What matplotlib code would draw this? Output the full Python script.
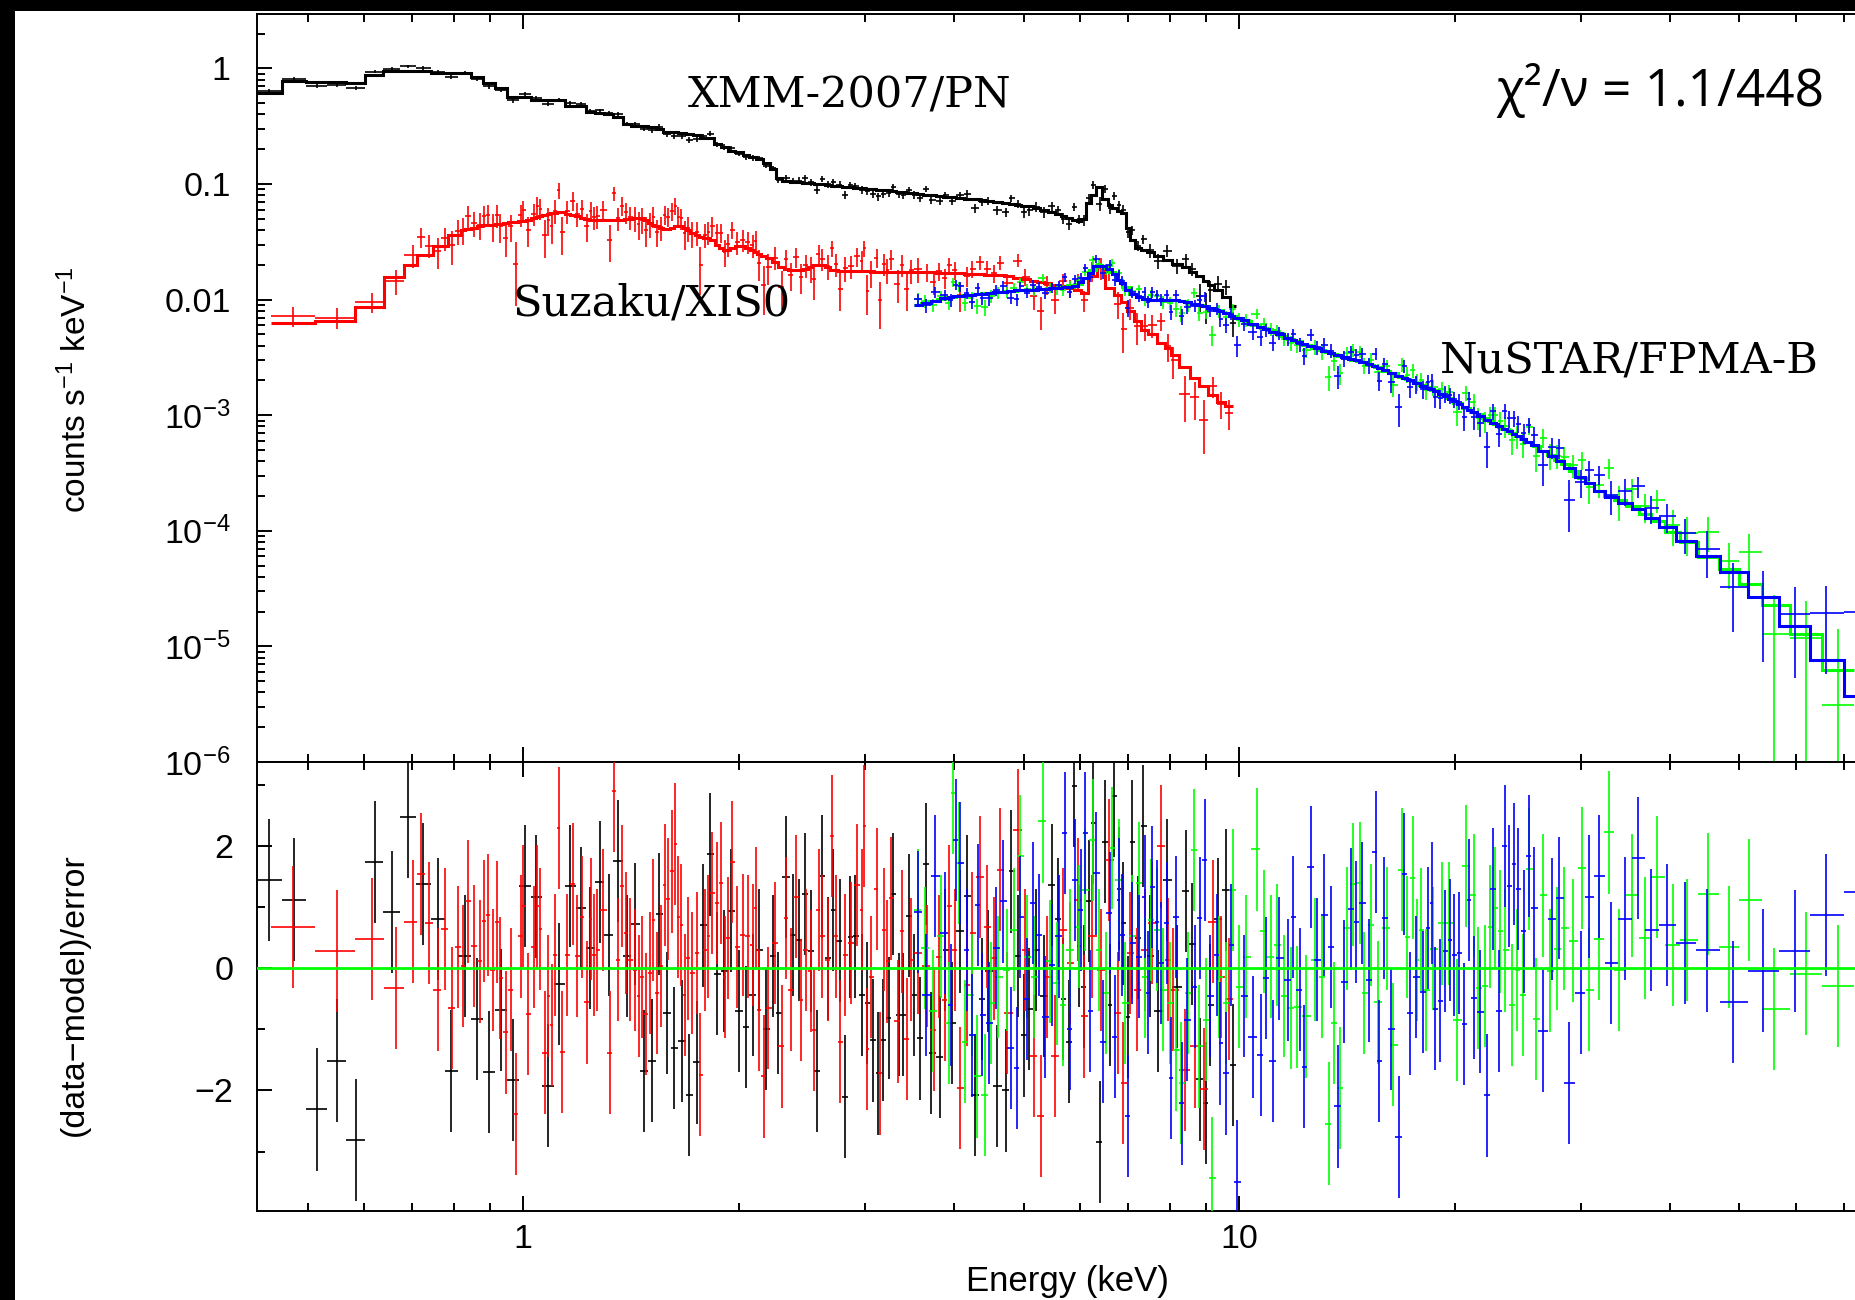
import numpy as np
import matplotlib
matplotlib.use("Agg")
import matplotlib.pyplot as plt
from matplotlib.patches import Rectangle
from matplotlib.ticker import FixedLocator, NullFormatter

# ======================= DATA =======================
# XMM-2007/PN (black)
xmm_energy = [0.442, 0.479, 0.516, 0.550, 0.584, 0.621, 0.656, 0.691, 0.725, 0.761,
              0.793, 0.830, 0.863, 0.896, 0.932, 0.968, 1.006, 1.043, 1.084, 1.123,
              1.163, 1.205, 1.241, 1.281, 1.318, 1.357, 1.397, 1.434, 1.476, 1.514,
              1.549, 1.589, 1.625, 1.668, 1.705, 1.750, 1.784, 1.825, 1.866, 1.909,
              1.952, 2.003, 2.048, 2.092, 2.136, 2.185, 2.235, 2.271, 2.330, 2.383,
              2.426, 2.477, 2.521, 2.574, 2.616, 2.667, 2.710, 2.768, 2.817, 2.862,
              2.909, 2.975, 3.023, 3.082, 3.132, 3.183, 3.245, 3.287, 3.351, 3.395,
              3.460, 3.517, 3.585, 3.655, 3.714, 3.823,
              3.886, 3.975, 4.077, 4.171, 4.279, 4.376, 4.461, 4.592, 4.727, 4.804,
              4.913, 5.009, 5.090, 5.206, 5.342, 5.483, 5.590, 5.681, 5.792, 5.886,
              5.976, 6.074, 6.172, 6.254, 6.386, 6.500, 6.605, 6.690, 6.799, 6.887,
              6.998, 7.089, 7.228, 7.346, 7.514, 7.709, 7.937, 8.196, 8.433, 8.597,
              8.821, 8.993, 9.110, 9.348, 9.590, 9.808]
xmm_model = [0.61, 0.78, 0.77, 0.76, 0.75, 0.88, 0.95, 0.95, 0.95, 0.91,
             0.91, 0.91, 0.84, 0.75, 0.675, 0.572, 0.572, 0.535, 0.535, 0.535,
             0.475, 0.475, 0.42, 0.41, 0.40, 0.38, 0.33, 0.32, 0.32, 0.31,
             0.30, 0.28, 0.28, 0.275, 0.27, 0.265, 0.25, 0.25, 0.22, 0.21,
             0.195, 0.19, 0.18, 0.172, 0.165, 0.152, 0.135, 0.112, 0.106, 0.104,
             0.104, 0.103, 0.102, 0.101, 0.100, 0.099, 0.097, 0.096, 0.095, 0.094,
             0.093, 0.092, 0.091, 0.090, 0.089, 0.089, 0.088, 0.087, 0.086, 0.085,
             0.084, 0.083, 0.082, 0.081, 0.080, 0.079,
             0.078, 0.077, 0.076, 0.075, 0.074, 0.073, 0.072, 0.070, 0.068, 0.067,
             0.066, 0.065, 0.064, 0.062, 0.060, 0.057, 0.055, 0.053, 0.051, 0.049,
             0.048, 0.050, 0.068, 0.080, 0.094, 0.075, 0.066, 0.062, 0.058, 0.056,
             0.042, 0.033, 0.028, 0.027, 0.026, 0.024, 0.022, 0.0205, 0.019, 0.0175,
             0.016, 0.0145, 0.0135, 0.012, 0.0105, 0.0088]
xmm_resid = [1.44, 1.12, -2.31, -1.51, -2.81, 1.73, 0.92, 2.47, 1.38, 0.80,
             -1.68, 0.20, -0.83, -1.70, -0.68, -1.83, 1.34, 1.17, -1.92, -0.26,
             1.34, 0.98, 0.33, 1.41, 0.54, 1.75, 0.20, 0.72, -1.68, -1.51,
             0.89, -0.73, -1.31, -1.19, -2.07, -1.54, 0.70, 1.86, -0.09, -0.05,
             0.94, -0.70, -0.96, -0.44, 0.30, -1.00, 0.20, -0.73, 1.49, 0.54,
             0.46, 1.21, 0.28, -1.68, 1.50, 0.16, 0.95, 0.45, -2.10, 0.51,
             0.52, -0.44, -0.57, -1.18, -1.72, -1.17, -0.82, 1.21, -0.76, -0.76,
             0.86, -0.44, -1.15, 1.70, -1.39, -1.45,
             0.30, -0.90, 0.60, 1.18, -2.07, -0.50, -0.05, -1.93, -2.00, 1.58,
             0.20, -1.10, -0.67, 0.30, -0.46, 1.36, 0.80, -0.50, -1.20, 2.98,
             0.36, -0.30, 1.10, 2.37, -2.84, 2.07, -0.60, 2.81, 1.30, 0.73,
             -0.80, 2.07, 0.50, 2.32, 0.20, -0.70, 1.44, -0.30, 1.26, 0.40,
             -1.82, -2.20, -0.60, 0.80, 1.28, -1.58]
xmm_relerr = [0.035, 0.035, 0.035, 0.035, 0.035, 0.04, 0.04, 0.04, 0.04, 0.04,
              0.04, 0.04, 0.04, 0.04, 0.04, 0.04, 0.04, 0.04, 0.04, 0.04,
              0.04, 0.04, 0.04, 0.04, 0.04, 0.04, 0.04, 0.04, 0.04, 0.04,
              0.05, 0.05, 0.05, 0.05, 0.05, 0.05, 0.05, 0.05, 0.05, 0.05,
              0.05, 0.05, 0.05, 0.05, 0.05, 0.05, 0.05, 0.05, 0.05, 0.05,
              0.07, 0.07, 0.07, 0.07, 0.07, 0.07, 0.07, 0.07, 0.07, 0.07,
              0.07, 0.07, 0.07, 0.07, 0.07, 0.07, 0.07, 0.07, 0.07, 0.07,
              0.07, 0.07, 0.07, 0.07, 0.07, 0.07,
              0.08, 0.08, 0.08, 0.08, 0.08, 0.08, 0.08, 0.08, 0.08, 0.08,
              0.08, 0.10, 0.10, 0.10, 0.10, 0.10, 0.10, 0.10, 0.10, 0.10,
              0.10, 0.10, 0.10, 0.10, 0.10, 0.10, 0.10, 0.10, 0.10, 0.10,
              0.10, 0.10, 0.10, 0.10, 0.14, 0.14, 0.14, 0.14, 0.14, 0.14,
              0.18, 0.18, 0.18, 0.18, 0.18, 0.18]

# Suzaku/XIS0 (red)
xis_energy = [0.477, 0.549, 0.616, 0.665, 0.701, 0.721, 0.739, 0.760, 0.777, 0.796,
              0.811, 0.825, 0.837, 0.853, 0.871, 0.882, 0.894, 0.907, 0.919, 0.930,
              0.946, 0.961, 0.977, 0.992, 1.000, 1.016, 1.035, 1.047, 1.056, 1.073,
              1.085, 1.096, 1.109, 1.122, 1.133, 1.153, 1.175, 1.191, 1.209, 1.227,
              1.244, 1.256, 1.269, 1.295, 1.322, 1.340, 1.356, 1.375, 1.392, 1.410,
              1.434, 1.451, 1.465, 1.487, 1.504, 1.521, 1.537, 1.558, 1.577, 1.593,
              1.616, 1.632, 1.646, 1.663, 1.682, 1.699, 1.724, 1.748, 1.769, 1.795,
              1.813, 1.839, 1.865, 1.892, 1.914, 1.933, 1.961, 1.989, 2.027, 2.063,
              2.092, 2.113, 2.137, 2.168, 2.200, 2.248, 2.297, 2.330, 2.364, 2.408,
              2.443, 2.485, 2.521, 2.550, 2.587, 2.613, 2.670, 2.698, 2.736, 2.768,
              2.820, 2.870, 2.931, 2.974, 2.995, 3.026, 3.060, 3.118, 3.150, 3.195,
              3.228, 3.265, 3.336, 3.385, 3.433, 3.483, 3.559,
              3.667, 3.744, 3.811, 3.880, 3.936, 4.006, 4.077, 4.171, 4.239, 4.349,
              4.446, 4.548, 4.636, 4.742, 4.913, 5.025, 5.173, 5.284, 5.394, 5.534,
              5.681, 5.808, 5.954, 6.074, 6.232, 6.418, 6.584, 6.776, 6.887, 7.044,
              7.204, 7.384, 7.561, 7.783, 7.960, 8.089, 8.407, 8.670, 8.938, 9.184,
              9.438, 9.683]
xis_model = [0.0063, 0.0066, 0.0086, 0.0156, 0.020, 0.0245, 0.0245, 0.029, 0.029, 0.036,
             0.036, 0.040, 0.041, 0.042, 0.043, 0.044, 0.044, 0.044, 0.045, 0.045,
             0.046, 0.047, 0.047, 0.048, 0.048, 0.049, 0.051, 0.052, 0.053, 0.054,
             0.055, 0.056, 0.056, 0.057, 0.057, 0.055, 0.054, 0.053, 0.051, 0.050,
             0.049, 0.049, 0.049, 0.049, 0.049, 0.049, 0.049, 0.049, 0.050, 0.050,
             0.051, 0.051, 0.051, 0.049, 0.046, 0.044, 0.043, 0.042, 0.041, 0.041,
             0.042, 0.043, 0.043, 0.043, 0.042, 0.040, 0.038, 0.036, 0.035, 0.034,
             0.034, 0.033, 0.030, 0.028, 0.027, 0.027, 0.028, 0.029, 0.029, 0.028,
             0.027, 0.026, 0.025, 0.024, 0.023, 0.021, 0.019, 0.0185, 0.018, 0.018,
             0.018, 0.0185, 0.019, 0.020, 0.020, 0.020, 0.019, 0.018, 0.018, 0.0178,
             0.0178, 0.0177, 0.0177, 0.0176, 0.0176, 0.0176, 0.0176, 0.0175, 0.0175, 0.0175,
             0.0175, 0.0175, 0.0174, 0.0174, 0.0174, 0.0173, 0.0173,
             0.0172, 0.0172, 0.0171, 0.0171, 0.0170, 0.0170, 0.0169, 0.0168, 0.0167, 0.0166,
             0.0165, 0.0164, 0.0162, 0.0160, 0.0155, 0.0150, 0.0145, 0.0142, 0.0138, 0.0135,
             0.0130, 0.0125, 0.0120, 0.0115, 0.0160, 0.0190, 0.0125, 0.0110, 0.0095, 0.0080,
             0.0065, 0.0055, 0.0050, 0.0042, 0.0038, 0.0033, 0.0026, 0.0021, 0.0018, 0.0015,
             0.0013, 0.0012]
xis_resid = [0.67, 0.28, 0.48, -0.32, 0.76, 1.54, 0.74, -0.35, 0.64, -0.65,
             0.35, 0.03, 1.09, 0.36, 0.11, 0.77, 0.87, -0.03, 0.75, -0.16,
             -1.05, -0.35, -2.38, 0.52, 1.02, -0.75, 0.35, 1.01, 0.64, -1.38,
             -0.46, -0.93, 0.22, 2.29, -1.37, 0.22, 1.38, 0.20, 0.84, -0.56,
             0.80, 0.22, 0.30, 0.95, -1.38, 2.90, 0.14, 1.34, 0.57, 0.14,
             -0.03, -0.46, -0.14, -0.75, -0.08, 0.79, -0.41, 0.03, 1.36, 1.13,
             1.58, 2.03, 0.84, 0.71, -0.44, 0.16, -0.08, 0.25, -1.74, 0.30,
             0.52, 1.23, 1.06, 1.39, -0.14, 0.49, 1.74, 0.35, 0.54, 0.52,
             0.38, 0.98, -0.68, -1.77, -0.65, 0.41, -1.28, 0.82, -0.35, 1.17,
             -0.52, 0.30, -0.05, -1.01, 0.95, 0.52, 0.14, 2.16, 0.52, -1.20,
             0.22, 0.41, 1.36, 0.95, 2.32, -1.32, -0.14, 1.29, -1.72, 0.63,
             0.11, 1.14, -0.87, 0.60, -1.16, 0.14, 0.25,
             0.03, -1.01, 0.19, -0.52, 1.01, 0.30, -1.96, -0.27, 0.57, 1.49,
             0.68, 0.16, 1.61, -0.73, 2.26, 0.30, -1.44, -2.42, -0.14, -1.44,
             0.63, 0.08, 1.12, -0.79, 0.52, -0.03, 1.77, -0.73, -1.88, 0.25,
             -0.35, 0.30, 0.74, 1.99, 0.14, -0.35, -1.66, -1.28, -1.98, 0.76,
             -0.14, -0.50]
xis_relerr = [0.22, 0.22, 0.22, 0.22, 0.27, 0.27, 0.27, 0.27, 0.27, 0.27,
              0.27, 0.27, 0.27, 0.27, 0.27, 0.27, 0.27, 0.27, 0.27, 0.27,
              0.24, 0.24, 0.24, 0.24, 0.24, 0.24, 0.24, 0.24, 0.24, 0.24,
              0.24, 0.24, 0.24, 0.24, 0.24, 0.24, 0.24, 0.24, 0.24, 0.24,
              0.24, 0.24, 0.24, 0.24, 0.24, 0.24, 0.24, 0.24, 0.24, 0.24,
              0.24, 0.24, 0.24, 0.24, 0.24, 0.24, 0.24, 0.24, 0.24, 0.24,
              0.25, 0.25, 0.25, 0.25, 0.25, 0.25, 0.25, 0.25, 0.25, 0.25,
              0.25, 0.25, 0.25, 0.25, 0.25, 0.25, 0.25, 0.25, 0.25, 0.25,
              0.25, 0.25, 0.25, 0.25, 0.25, 0.25, 0.25, 0.25, 0.25, 0.25,
              0.25, 0.25, 0.25, 0.25, 0.25, 0.25, 0.25, 0.25, 0.25, 0.25,
              0.25, 0.25, 0.25, 0.25, 0.25, 0.25, 0.25, 0.25, 0.25, 0.25,
              0.25, 0.25, 0.25, 0.25, 0.25, 0.25, 0.25,
              0.18, 0.18, 0.18, 0.18, 0.18, 0.18, 0.18, 0.18, 0.18, 0.18,
              0.18, 0.18, 0.18, 0.18, 0.18, 0.18, 0.18, 0.18, 0.18, 0.18,
              0.18, 0.18, 0.18, 0.18, 0.22, 0.22, 0.22, 0.22, 0.22, 0.22,
              0.28, 0.28, 0.28, 0.28, 0.28, 0.28, 0.25, 0.25, 0.25, 0.25,
              0.25, 0.25]

# NuSTAR FPMA (green)
fpma_energy = [3.56, 3.64, 3.74, 3.84, 3.94, 3.98, 4.06, 4.14, 4.23, 4.30,
               4.42, 4.51, 4.61, 4.74, 4.85, 4.95, 5.06, 5.17, 5.32, 5.44,
               5.56, 5.68, 5.80, 5.97, 6.10, 6.25, 6.37, 6.51, 6.65, 6.79,
               6.94, 7.09, 7.25, 7.40, 7.53, 7.68, 7.84, 8.01, 8.16, 8.31,
               8.49, 8.65, 8.80, 8.99, 9.18, 9.38, 9.59, 9.80, 10.01, 10.22,
               10.60, 10.83, 11.07, 11.31, 11.55, 11.81, 12.06, 12.42, 12.78, 13.06,
               13.34, 13.57, 13.83, 14.13, 14.43, 14.75, 14.96, 15.29, 15.62, 16.07,
               16.43, 16.89, 17.17, 17.50, 17.73, 17.96, 18.25, 18.66, 19.21, 19.65,
               20.16, 20.75, 21.29, 21.57, 22.06, 22.42, 22.78, 23.15, 23.53, 24.06,
               24.45, 24.93, 25.41, 25.99, 26.58, 27.19, 27.81, 28.44, 29.28, 30.14,
               30.82, 31.83, 32.87, 33.94, 35.40, 36.90, 38.36, 40.38, 42.25, 45.19,
               48.35, 51.58, 55.88, 61.94, 68.64]
fpma_model = [0.00904, 0.00933, 0.00975, 0.0101, 0.0105, 0.0106, 0.0108, 0.0109, 0.0110, 0.0112,
              0.0114, 0.0115, 0.0117, 0.0118, 0.0119, 0.0120, 0.0121, 0.0122, 0.0124, 0.0125,
              0.0126, 0.0128, 0.0129, 0.0137, 0.0155, 0.0181, 0.0198, 0.0192, 0.0175, 0.0148,
              0.0128, 0.0111, 0.0105, 0.0102, 0.0100, 0.0100, 0.0100, 0.00995, 0.00991, 0.00980,
              0.00950, 0.00926, 0.00902, 0.00874, 0.00842, 0.00808, 0.00759, 0.00718, 0.00700, 0.00652,
              0.00603, 0.00570, 0.00541, 0.00513, 0.00486, 0.00461, 0.00439, 0.00407, 0.00384, 0.00366,
              0.00349, 0.00339, 0.00327, 0.00315, 0.00303, 0.00293, 0.00286, 0.00274, 0.00260, 0.00243,
              0.00231, 0.00215, 0.00206, 0.00196, 0.00189, 0.00183, 0.00176, 0.00166, 0.00151, 0.00140,
              0.00128, 0.00116, 0.00106, 0.00102, 0.000940, 0.000887, 0.000839, 0.000794, 0.000753, 0.000701,
              0.000665, 0.000625, 0.000589, 0.000541, 0.000494, 0.000451, 0.000413, 0.000378, 0.000331, 0.000288,
              0.000260, 0.000223, 0.000202, 0.000185, 0.000164, 0.000141, 0.000121, 9.77e-5, 7.94e-5, 5.89e-5,
              4.68e-5, 3.47e-5, 2.29e-5, 1.29e-5, 6.31e-6]
fpma_resid = [0.95, 0.33, -0.70, 0.52, -0.90, 2.86, 1.72, -1.20, -0.44, -1.77,
              -2.07, -0.57, -0.14, -0.03, 0.63, 1.83, 0.19, -0.14, 2.40, 0.11,
              -0.25, -0.60, 0.30, 0.68, 1.28, 2.10, 0.30, -0.41, 1.96, 1.44,
              -0.57, 0.52, 1.39, -0.14, 0.79, 0.63, -0.35, -0.57, -1.33, -1.88,
              -0.41, 1.93, -1.28, -0.84, -3.43, -0.14, -0.57, 1.28, -0.30, 0.19,
              1.94, 0.60, 0.19, 0.38, -0.46, -0.65, -0.63, -0.79, 0.14, -0.14,
              -2.54, -0.90, -1.96, 0.65, 1.37, 1.39, -0.41, 0.71, -0.56, 0.65,
              -1.25, 1.61, 0.51, 1.48, 0.13, 0.63, -0.36, 0.32, 0.73, 0.73,
              -0.85, 1.67, 1.19, -0.32, -0.29, 0.68, 0.98, 0.60, 0.29, -0.60,
              -0.03, -0.44, 1.62, -0.83, 1.19, -0.04, 0.32, 0.65, 0.45, 1.64,
              -0.35, 0.48, 2.22, -0.03, 1.19, 0.49, 1.49, 0.38, 0.46, 1.21,
              0.35, 1.11, -0.67, -0.09, -0.29]
fpma_relerr = [0.13, 0.13, 0.12, 0.12, 0.12, 0.12, 0.12, 0.12, 0.12, 0.12,
               0.12, 0.12, 0.12, 0.12, 0.10, 0.10, 0.10, 0.10, 0.10, 0.10,
               0.10, 0.10, 0.10, 0.10, 0.10, 0.10, 0.10, 0.10, 0.10, 0.10,
               0.10, 0.12, 0.12, 0.12, 0.12, 0.12, 0.12, 0.12, 0.12, 0.12,
               0.12, 0.12, 0.12, 0.12, 0.12, 0.12, 0.12, 0.12, 0.13, 0.13,
               0.13, 0.13, 0.13, 0.13, 0.13, 0.13, 0.13, 0.13, 0.15, 0.15,
               0.15, 0.15, 0.15, 0.15, 0.15, 0.15, 0.15, 0.15, 0.15, 0.15,
               0.17, 0.17, 0.17, 0.17, 0.17, 0.17, 0.17, 0.17, 0.17, 0.17,
               0.20, 0.20, 0.20, 0.20, 0.20, 0.20, 0.20, 0.22, 0.22, 0.22,
               0.22, 0.22, 0.22, 0.22, 0.25, 0.25, 0.25, 0.25, 0.25, 0.25,
               0.25, 0.25, 0.33, 0.33, 0.33, 0.33, 0.35, 0.40, 0.45, 0.55,
               0.50, 0.80, 0.65, 1.00, 1.75]

# NuSTAR FPMB (blue)
fpmb_energy = [3.56, 3.66, 3.76, 3.88, 3.96, 4.02, 4.08, 4.17, 4.23, 4.32,
               4.38, 4.48, 4.58, 4.68, 4.81, 4.90, 4.95, 5.06, 5.16, 5.25,
               5.36, 5.48, 5.60, 5.72, 5.80, 5.90, 6.01, 6.10, 6.19, 6.32,
               6.46, 6.60, 6.70, 6.79, 6.86, 6.99, 7.09, 7.25, 7.38, 7.46,
               7.57, 7.68, 7.79, 7.92, 8.04, 8.16, 8.33, 8.45, 8.67, 8.82,
               8.95, 9.12, 9.32, 9.42, 9.59, 9.76, 9.94, 10.16, 10.45, 10.72,
               10.91, 11.15, 11.36, 11.72, 11.89, 12.15, 12.33, 12.59, 12.87, 13.15,
               13.44, 13.73, 14.03, 14.33, 14.58, 14.86, 15.18, 15.51, 15.67, 15.96,
               16.31, 16.74, 17.00, 17.33, 17.67, 18.07, 18.37, 18.60, 18.78, 19.09,
               19.40, 19.71, 19.97, 20.29, 20.62, 20.95, 21.29, 21.71, 22.20, 22.63,
               23.08, 23.53, 23.83, 24.22, 24.53, 25.00, 25.41, 25.82, 26.58, 27.37,
               27.99, 28.90, 30.04, 30.82, 31.83, 33.08, 34.60, 36.08, 37.62, 39.62,
               41.98, 45.05, 48.97, 53.94, 59.77, 66.04, 74.0]
fpmb_model = [0.00904, 0.00944, 0.00982, 0.0103, 0.0106, 0.0107, 0.0108, 0.0110, 0.0110, 0.0112,
              0.0113, 0.0115, 0.0116, 0.0117, 0.0119, 0.0120, 0.0120, 0.0121, 0.0122, 0.0123,
              0.0124, 0.0126, 0.0127, 0.0128, 0.0129, 0.0132, 0.0141, 0.0155, 0.0170, 0.0195,
              0.0195, 0.0184, 0.0166, 0.0148, 0.0138, 0.0120, 0.0111, 0.0105, 0.0102, 0.0101,
              0.0100, 0.0100, 0.0100, 0.00998, 0.00995, 0.00991, 0.00977, 0.00955, 0.00923, 0.00900,
              0.00879, 0.00851, 0.00813, 0.00794, 0.00759, 0.00724, 0.00692, 0.00661, 0.00617, 0.00581,
              0.00557, 0.00530, 0.00506, 0.00468, 0.00452, 0.00429, 0.00415, 0.00396, 0.00378, 0.00361,
              0.00344, 0.00331, 0.00319, 0.00308, 0.00299, 0.00290, 0.00279, 0.00265, 0.00258, 0.00247,
              0.00234, 0.00220, 0.00211, 0.00201, 0.00191, 0.00180, 0.00173, 0.00167, 0.00162, 0.00154,
              0.00146, 0.00138, 0.00132, 0.00126, 0.00119, 0.00112, 0.00106, 0.000993, 0.000918, 0.000859,
              0.000804, 0.000753, 0.000724, 0.000687, 0.000659, 0.000619, 0.000589, 0.000556, 0.000494, 0.000440,
              0.000403, 0.000352, 0.000294, 0.000260, 0.000223, 0.000198, 0.000175, 0.000153, 0.000130, 0.000107,
              8.17e-5, 6.03e-5, 4.37e-5, 2.69e-5, 1.51e-5, 7.59e-6, 3.72e-6]
fpmb_resid = [0.92, -0.44, 1.51, 0.57, -0.60, 2.10, 1.72, 0.30, -1.10, 1.03,
              -0.76, -0.90, 0.33, 1.09, -1.30, -1.63, 0.84, -0.50, 1.06, 0.54,
              -0.80, 0.05, 0.52, 2.21, -1.00, 1.44, 0.95, 2.21, -0.70, 1.55,
              -1.20, 0.90, -1.12, 1.12, 0.54, -2.42, 0.41, 0.19, 1.17, -0.40,
              1.33, 0.76, 0.08, 0.74, -1.80, 0.84, -2.21, -0.84, -0.30, 0.82,
              1.77, -0.46, 0.22, -1.23, -1.72, 0.38, -3.49, -0.46, -1.13, -1.42,
              -0.16, -1.52, 0.16, -0.19, 0.84, -0.35, -1.61, 1.65, 0.14, 0.87,
              0.35, -2.26, -0.22, 0.97, 0.75, 1.06, -0.20, 1.90, -1.52, 0.82,
              -0.99, -2.76, 1.54, -0.74, -0.15, -0.39, 0.66, 1.06, -0.66, -0.53,
              0.28, 0.46, 0.22, 0.25, -0.91, 1.11, -0.48, -0.71, -2.08, 1.29,
              -0.70, 2.00, 1.34, 1.70, 1.29, 0.60, 1.83, 0.98, -1.02, 0.80,
              1.15, -1.88, -0.40, 1.17, 1.50, 0.08, 0.81, 1.80, 0.62, 0.71,
              0.41, 0.29, -0.55, -0.04, 0.28, 0.87, 1.25]
fpmb_relerr = [0.13, 0.13, 0.12, 0.12, 0.12, 0.12, 0.12, 0.12, 0.12, 0.12,
               0.12, 0.12, 0.12, 0.12, 0.10, 0.10, 0.10, 0.10, 0.10, 0.10,
               0.10, 0.10, 0.10, 0.10, 0.10, 0.10, 0.10, 0.10, 0.10, 0.10,
               0.10, 0.10, 0.10, 0.10, 0.10, 0.12, 0.12, 0.12, 0.12, 0.12,
               0.12, 0.12, 0.12, 0.12, 0.12, 0.12, 0.12, 0.12, 0.12, 0.12,
               0.12, 0.12, 0.12, 0.12, 0.12, 0.12, 0.12, 0.13, 0.13, 0.13,
               0.13, 0.13, 0.13, 0.13, 0.13, 0.13, 0.13, 0.15, 0.15, 0.15,
               0.15, 0.15, 0.15, 0.15, 0.15, 0.15, 0.15, 0.15, 0.15, 0.15,
               0.17, 0.17, 0.17, 0.17, 0.17, 0.17, 0.17, 0.17, 0.17, 0.17,
               0.17, 0.17, 0.17, 0.17, 0.20, 0.20, 0.20, 0.20, 0.20, 0.20,
               0.20, 0.22, 0.22, 0.22, 0.22, 0.22, 0.22, 0.22, 0.25, 0.25,
               0.25, 0.25, 0.25, 0.25, 0.25, 0.33, 0.33, 0.33, 0.33, 0.35,
               0.40, 0.50, 0.45, 0.70, 0.90, 1.80, 3.50]

# Axis / tick text
upper_ytick_values = [1e-6, 1e-5, 1e-4, 1e-3, 0.01, 0.1, 1]
upper_ytick_labels = ['$10^{-6}$', '$10^{-5}$', '$10^{-4}$', '$10^{-3}$', '0.01', '0.1', '1']
xtick_values = [1, 10]
xtick_labels = ['1', '10']
resid_ytick_values = [-2, 0, 2]
resid_ytick_labels = ['\u22122', '0', '2']

# ======================= FIGURE =======================
plt.rcParams['font.family'] = ['Liberation Sans', 'DejaVu Sans']
plt.rcParams['mathtext.fontset'] = 'custom'
plt.rcParams['mathtext.rm'] = 'Liberation Sans'
plt.rcParams['mathtext.it'] = 'Liberation Sans:italic'
plt.rcParams['mathtext.bf'] = 'Liberation Sans:bold'

W, H = 1855, 1300
fig = plt.figure(figsize=(W / 100, H / 100), dpi=100, facecolor='black')
fig.patches.append(Rectangle((15 / W, 0), 1.0, (H - 11) / H, transform=fig.transFigure,
                             facecolor='white', edgecolor='none', zorder=-10))

XMIN, XMAX = 0.425, 79.0
left_px, right_px = 257, 1881.7
top_px, mid_px, bot_px = 14, 762, 1211
ax1 = fig.add_axes([left_px / W, 1 - mid_px / H, (right_px - left_px) / W, (mid_px - top_px) / H])
ax2 = fig.add_axes([left_px / W, 1 - bot_px / H, (right_px - left_px) / W, (bot_px - mid_px) / H])

minor_x = [0.5, 0.6, 0.7, 0.8, 0.9, 2, 3, 4, 5, 6, 7, 8, 9, 20, 30, 40, 50, 60, 70]

for ax in (ax1, ax2):
    ax.set_xscale('log')
    ax.set_xlim(XMIN, XMAX)
    ax.xaxis.set_major_locator(FixedLocator(xtick_values))
    ax.xaxis.set_minor_locator(FixedLocator(minor_x))
    ax.xaxis.set_minor_formatter(NullFormatter())
    ax.tick_params(which='both', direction='in', top=True, right=True, width=1.4,
                   colors='black', labelsize=24.5)
    ax.tick_params(which='major', length=11)
    ax.tick_params(which='minor', length=6)
    for s in ax.spines.values():
        s.set_linewidth(1.4)

ax2.set_xticks(xtick_values)
ax2.set_xticklabels(xtick_labels)
ax1.tick_params(axis='x', labelbottom=False)
ax2.tick_params(axis='x', pad=9)

ax1.set_yscale('log')
ax1.set_ylim(1e-6, 2.96)
ax1.set_yticks(upper_ytick_values)
ax1.set_yticklabels(upper_ytick_labels)
ax1.yaxis.set_minor_locator(FixedLocator([m * 10.0 ** k for k in range(-6, 1) for m in range(2, 10)]))
ax1.yaxis.set_minor_formatter(NullFormatter())
ax1.tick_params(axis='y', pad=19)

ax2.set_ylim(-3.97, 3.37)
ax2.set_yticks(resid_ytick_values)
ax2.set_yticklabels(resid_ytick_labels)
ax2.yaxis.set_minor_locator(FixedLocator([-3, -1, 1, 3]))
ax2.tick_params(axis='y', pad=17)


def bin_edges(E):
    E = np.asarray(E, float)
    mid = np.sqrt(E[:-1] * E[1:])
    return np.concatenate([[E[0] ** 2 / mid[0]], mid, [E[-1] ** 2 / mid[-1]]])


def draw_set(E, model, resid, relerr, color, zbase):
    n = min(len(E), len(model), len(resid), len(relerr))
    E = np.asarray(E[:n], float)
    model = np.asarray(model[:n], float)
    resid = np.asarray(resid[:n], float)
    relerr = np.asarray(relerr[:n], float)
    edges = bin_edges(E)
    xl = E - edges[:-1]
    xr = edges[1:] - E
    err = model * relerr
    data = model + resid * err
    lo = np.where(data - err > 0, err, data * (1 - 1e-9))
    ax1.errorbar(E, data, yerr=[lo, err], xerr=[xl, xr], fmt='none', ecolor=color,
                 elinewidth=1.2, capsize=0, zorder=zbase)
    ax1.stairs(model, edges, color=color, lw=2.2, baseline=None, zorder=zbase + 0.5)
    ax2.errorbar(E, resid, yerr=np.ones(n), xerr=[xl, xr], fmt='none', ecolor=color,
                 elinewidth=1.2, capsize=0, zorder=zbase)


draw_set(xmm_energy, xmm_model, xmm_resid, xmm_relerr, '#000000', 2)
draw_set(xis_energy, xis_model, xis_resid, xis_relerr, '#ff0000', 3)
draw_set(fpma_energy, fpma_model, fpma_resid, fpma_relerr, '#00ff00', 4)
draw_set(fpmb_energy, fpmb_model, fpmb_resid, fpmb_relerr, '#0000ff', 5)

ax2.axhline(0, color='#00ff00', lw=2.0, zorder=10)


def ftxt(px, py, s, **kw):
    fig.text(px / W, 1 - py / H, s, **kw)


serif = ['DejaVu Serif']
ftxt(688, 107, 'XMM-2007/PN', family=serif, fontsize=31, ha='left', va='baseline')
ftxt(512, 315, 'Suzaku/XIS0', family=serif, fontsize=31, ha='left', va='baseline')
ftxt(1440, 374, 'NuSTAR/FPMA-B', family=serif, fontsize=31, ha='left', va='baseline')
ftxt(1496, 106, '\u03c7\u00b2/\u03bd = 1.1/448', family=['Open Sans', 'DejaVu Sans'],
     fontsize=37, ha='left', va='baseline')

ftxt(76, 390, 'counts s$^{-1}$ keV$^{-1}$', rotation=90, ha='center', va='center', fontsize=24)
ftxt(74, 995, '(data\u2212model)/error', rotation=90, ha='center', va='center', fontsize=24.5)
ftxt(1067, 1282, 'Energy (keV)', ha='center', va='center', fontsize=25)

fig.savefig('out.png', dpi=100, facecolor='black')
